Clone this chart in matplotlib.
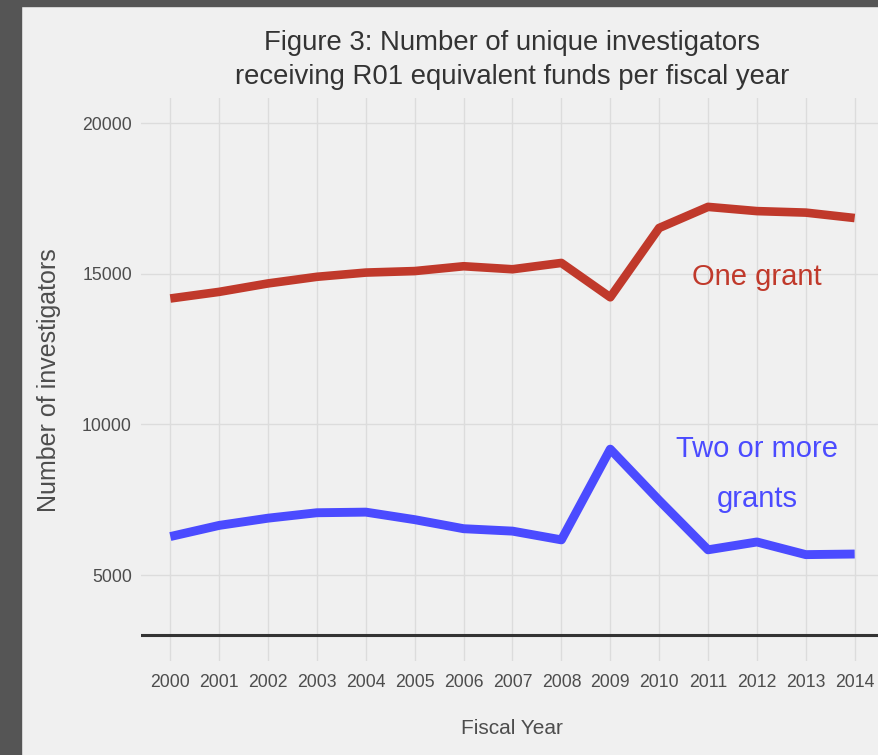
import numpy as np
import matplotlib
matplotlib.use('Agg')
import matplotlib.pyplot as plt
from matplotlib.patches import Rectangle

# Values
years = [2000, 2001, 2002, 2003, 2004, 2005, 2006, 2007,
         2008, 2009, 2010, 2011, 2012, 2013, 2014]
one_grant = [14180, 14400, 14680, 14900, 15040, 15090, 15250, 15150,
             15360, 14220, 16520, 17220, 17080, 17030, 16850]
two_plus = [6280, 6650, 6890, 7070, 7090, 6840, 6540, 6460,
            6170, 9180, 7480, 5840, 6100, 5680, 5700]
y_ticks = [5000, 10000, 15000, 20000]

plt.rcParams['font.family'] = ['Liberation Sans', 'DejaVu Sans']

W, H = 879, 755
BG = '#F0F0F0'
RED = '#C0392B'
BLUE = '#4B4BFF'


def PlotFigure(filename):
    fig = plt.figure(figsize=(W / 100, H / 100), dpi=100, facecolor=BG)

    # dark frame strips at the left and top of the screenshot
    fig.add_artist(Rectangle((0, 0), 21 / W, 1, transform=fig.transFigure,
                             color='#555555', zorder=10))
    fig.add_artist(Rectangle((0, 1 - 6 / H), 1, 6 / H, transform=fig.transFigure,
                             color='#555555', zorder=10))

    ax = fig.add_axes([141 / W, 1 - 661 / H, 743 / W, 563.5 / H])
    ax.set_facecolor(BG)
    for s in ax.spines.values():
        s.set_visible(False)

    ax.plot(years, one_grant, color=RED, lw=6.2,
            solid_capstyle='butt', solid_joinstyle='round', zorder=3)
    ax.plot(years, two_plus, color=BLUE, lw=6.4,
            solid_capstyle='butt', solid_joinstyle='round', zorder=3)
    ax.axhline(3000, color='#333333', lw=2.2, zorder=2)

    ax.set_xlim(1999.4, 2014.6)
    ax.set_ylim(2150, 20850)
    ax.set_xticks(years)
    ax.set_yticks(y_ticks)
    ax.grid(True, color='#DCDCDC', lw=1.0, zorder=0)
    ax.tick_params(length=0, labelsize=12.7, labelcolor='#4D4D4D')
    ax.tick_params(axis='x', pad=9.5)
    ax.tick_params(axis='y', pad=6.5)

    ax.text(2012, 14880, 'One grant', color=RED, fontsize=21,
            ha='center', va='center')
    ax.text(2012, 8360, 'Two or more\ngrants', color=BLUE, fontsize=21,
            ha='center', va='center', linespacing=1.97)

    fig.text(512.5 / W, 1 - 60 / H,
             'Figure 3: Number of unique investigators\n'
             'receiving R01 equivalent funds per fiscal year',
             ha='center', va='center', fontsize=19.8, color='#333333',
             linespacing=1.45)
    fig.text(512 / W, 1 - 728 / H, 'Fiscal Year', ha='center', va='center',
             fontsize=15, color='#4D4D4D')
    fig.text(49 / W, 1 - 380 / H, 'Number of investigators', rotation=90,
             ha='center', va='center', fontsize=18, color='#4D4D4D')

    fig.savefig(filename, dpi=100, facecolor=BG)


if __name__ == '__main__':
    PlotFigure('out.png')
